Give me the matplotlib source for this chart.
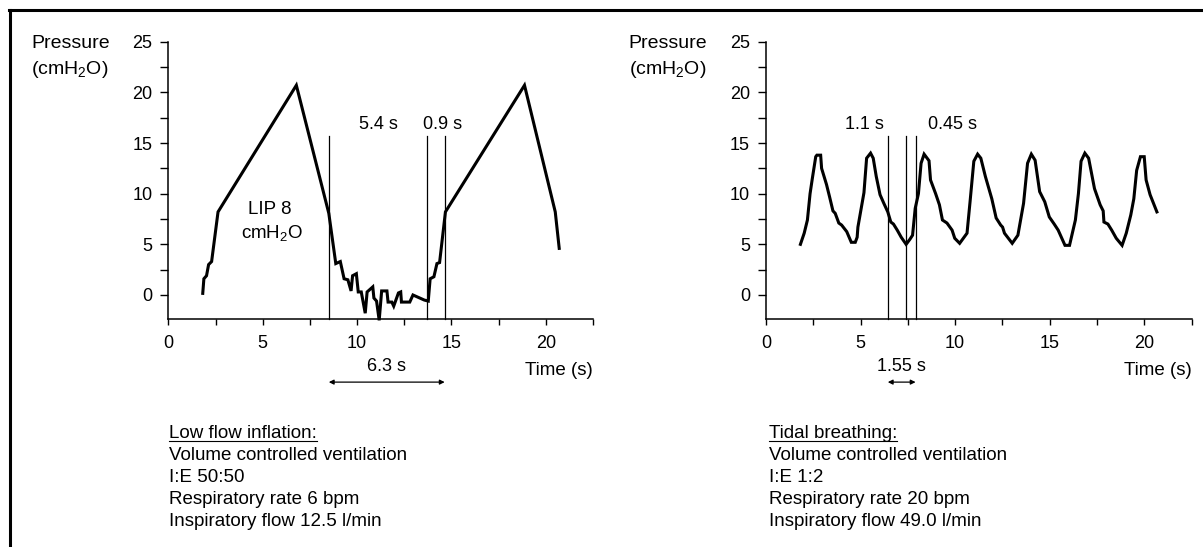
import matplotlib
matplotlib.use('Agg')
import matplotlib.pyplot as plt
from matplotlib.lines import Line2D
from matplotlib.ticker import MultipleLocator

plt.rcParams['font.family'] = ['Liberation Sans', 'DejaVu Sans']
plt.rcParams['mathtext.fontset'] = 'custom'
plt.rcParams['mathtext.rm'] = 'Liberation Sans'
plt.rcParams['mathtext.it'] = 'Liberation Sans'

# ---------------- data ----------------
lfi_time = [1.82, 1.88, 2.02, 2.13, 2.29, 2.63, 6.78, 8.5, 8.87, 9.11, 9.31, 9.51, 9.68,
            9.76, 9.96, 10.06, 10.22, 10.43, 10.53, 10.83, 10.89, 11.03, 11.17, 11.3,
            11.58, 11.64, 11.84, 11.94, 12.19, 12.31, 12.35, 12.79, 12.96, 13.56, 13.77,
            13.87, 14.07, 14.23, 14.37, 14.68, 18.87, 20.5, 20.71]
lfi_pressure = [0.16, 1.6, 1.9, 3.0, 3.3, 8.2, 20.7, 8.06, 3.1, 3.3, 1.6, 1.5, 0.4,
                1.9, 2.1, 0.3, 0.3, -1.8, 0.3, 0.8, -0.3, -0.6, -2.5, 0.4,
                0.4, -0.7, -0.7, -1.1, 0.2, 0.3, -0.7, -0.7, 0.0, -0.5, -0.6,
                1.6, 1.8, 3.1, 3.2, 8.2, 20.7, 8.2, 4.6]
lfi_marks = [8.5, 13.72, 14.64]
lfi_mark_labels = ["5.4 s", "0.9 s"]
lfi_mark_label_x = [11.13, 14.53]
lfi_span = (8.5, 14.64)
lfi_span_label = "6.3 s"

tidal_time = [1.82, 2.02, 2.19, 2.33, 2.45, 2.63, 2.69, 2.89, 2.94, 3.2, 3.36, 3.54, 3.66,
              3.85, 4.0, 4.27, 4.51, 4.72, 4.82, 4.86, 5.02, 5.18, 5.32, 5.53, 5.67,
              5.83, 6.03, 6.23, 6.44, 6.6, 6.74, 6.94, 7.15, 7.41, 7.61, 7.75, 7.89,
              8.06, 8.2, 8.36, 8.62, 8.7, 8.97, 9.17, 9.33, 9.57, 9.84, 9.98, 10.24,
              10.63, 10.79, 10.99, 11.19, 11.36, 11.6, 11.94, 12.17, 12.41, 12.51,
              12.61, 13.02, 13.32, 13.62, 13.83, 14.03, 14.23, 14.47, 14.74, 14.98,
              15.24, 15.45, 15.81, 16.05, 16.36, 16.52, 16.66, 16.86, 17.06, 17.37,
              17.67, 17.83, 17.87, 18.08, 18.28, 18.52, 18.83, 19.05, 19.29, 19.45,
              19.6, 19.8, 20.0, 20.1, 20.31, 20.67]
tidal_pressure = [5.0, 6.1, 7.4, 10.0, 11.5, 13.65, 13.8, 13.8, 12.5, 10.9, 9.7, 8.3, 8.06,
                  7.1, 6.9, 6.25, 5.2, 5.2, 5.7, 6.7, 8.4, 10.1, 13.5, 14.0, 13.5,
                  11.7, 9.9, 9.05, 8.2, 7.2, 7.0, 6.4, 5.7, 5.0, 5.5, 5.9, 8.55,
                  10.0, 13.0, 13.9, 13.25, 11.35, 10.0, 8.9, 7.4, 7.1, 6.4, 5.6, 5.1,
                  6.1, 9.2, 13.2, 13.9, 13.5, 11.7, 9.5, 7.6, 6.9, 6.7,
                  6.1, 5.1, 5.9, 9.05, 13.0, 13.9, 13.3, 10.2, 9.2, 7.7,
                  7.0, 6.4, 4.9, 4.9, 7.4, 10.0, 13.2, 14.0, 13.5, 10.5,
                  8.9, 8.3, 7.2, 7.0, 6.4, 5.6, 4.9, 6.1, 7.9, 9.5,
                  12.3, 13.65, 13.65, 11.35, 9.9, 8.2]
tidal_marks = [6.44, 7.41, 7.91]
tidal_mark_labels = ["1.1 s", "0.45 s"]
tidal_mark_label_x = [5.18, 9.88]
tidal_span = (6.44, 7.91)
tidal_span_label = "1.55 s"

y_ticks = [0, 5, 10, 15, 20, 25]
x_ticks = [0, 5, 10, 15, 20]

lfi_notes = ["Low flow inflation:", "Volume controlled ventilation", "I:E 50:50",
             "Respiratory rate 6 bpm", "Inspiratory flow 12.5 l/min"]
tidal_notes = ["Tidal breathing:", "Volume controlled ventilation", "I:E 1:2",
               "Respiratory rate 20 bpm", "Inspiratory flow 49.0 l/min"]

# ---------------- figure ----------------
W, H = 1203, 547
fig = plt.figure(figsize=(W / 100, H / 100), dpi=100)


def px_rect(left, top, right, bottom):
    return [left / W, 1 - bottom / H, (right - left) / W, (bottom - top) / H]


def fx(x):
    return x / W


def fy(y):
    return 1 - y / H


TICK_FS = 13
TEXT_FS = 13.5


def setup_axes(ax):
    ax.set_xlim(0, 22.5)
    ax.set_ylim(-2.4, 25)
    for s in ['top', 'right']:
        ax.spines[s].set_visible(False)
    for s in ['left', 'bottom']:
        ax.spines[s].set_linewidth(1.1)
    ax.set_xticks(x_ticks)
    ax.set_yticks(y_ticks)
    ax.xaxis.set_minor_locator(MultipleLocator(2.5))
    ax.yaxis.set_minor_locator(MultipleLocator(2.5))
    ax.tick_params(axis='x', which='both', direction='out', length=4.2, width=1.0,
                   pad=7, labelsize=TICK_FS)
    ax.tick_params(axis='y', which='both', direction='out', length=5.5, width=1.0,
                   pad=6, labelsize=TICK_FS)
    ax.patch.set_alpha(0)


def panel(ax, t, p, marks, mlabels, mlabel_x, span, span_label, x0px):
    setup_axes(ax)
    ax.plot(t, p, color='black', lw=2.2, solid_joinstyle='miter', clip_on=False)
    for m in marks:
        ax.plot([m, m], [-2.4, 15.7], color='black', lw=0.9, clip_on=False)
    for lab, lx in zip(mlabels, mlabel_x):
        ax.text(lx, 16.8, lab, ha='center', va='center', fontsize=TICK_FS)
    # span arrow below axis
    ax.annotate('', xy=(span[1], -8.6), xytext=(span[0], -8.6), xycoords='data',
                arrowprops=dict(arrowstyle='<|-|>', color='black', lw=0.9,
                                mutation_scale=7, shrinkA=0, shrinkB=0),
                annotation_clip=False)
    ax.text((span[0] + span[1]) / 2, -7.1, span_label, ha='center', va='center',
            fontsize=TICK_FS)
    ax.text(22.5, -7.5, "Time (s)", ha='right', va='center', fontsize=TEXT_FS)
    fig.text(fx(x0px), fy(43), "Pressure", ha='left', va='center', fontsize=TEXT_FS + 0.5)
    fig.text(fx(x0px), fy(70), "(cmH$_2$O)", ha='left', va='center', fontsize=TEXT_FS + 0.5)


ax1 = fig.add_axes(px_rect(168.4, 41.7, 593, 319.3))
ax2 = fig.add_axes(px_rect(766, 41.7, 1191.5, 319.3))

panel(ax1, lfi_time, lfi_pressure, lfi_marks, lfi_mark_labels, lfi_mark_label_x,
      lfi_span, lfi_span_label, 31.4)
panel(ax2, tidal_time, tidal_pressure, tidal_marks, tidal_mark_labels, tidal_mark_label_x,
      tidal_span, tidal_span_label, 628.7)

ax1.text(5.36, 8.4, "LIP 8", ha='center', va='center', fontsize=TEXT_FS)
ax1.text(5.5, 6.15, "cmH$_2$O", ha='center', va='center', fontsize=TEXT_FS)

# text blocks
heads = []
for x0, notes in [(169, lfi_notes), (769, tidal_notes)]:
    for i, line in enumerate(notes):
        t = fig.text(fx(x0), fy(434 + 21.8 * i), line, ha='left', va='center',
                     fontsize=TEXT_FS)
        if i == 0:
            heads.append(t)

# outer frame (left and top edges)
fig.add_artist(Line2D([fx(10), fx(10)], [0, fy(10)], color='black', lw=2.2))
fig.add_artist(Line2D([fx(9), 1], [fy(10), fy(10)], color='black', lw=2.2))

fig.canvas.draw()
r = fig.canvas.get_renderer()
for t in heads:
    bb = t.get_window_extent(r)
    yline = bb.y0 + 2
    fig.add_artist(Line2D([bb.x0 / W, bb.x1 / W], [yline / H, yline / H],
                          color='black', lw=0.8))

fig.savefig('out.png', dpi=100)
